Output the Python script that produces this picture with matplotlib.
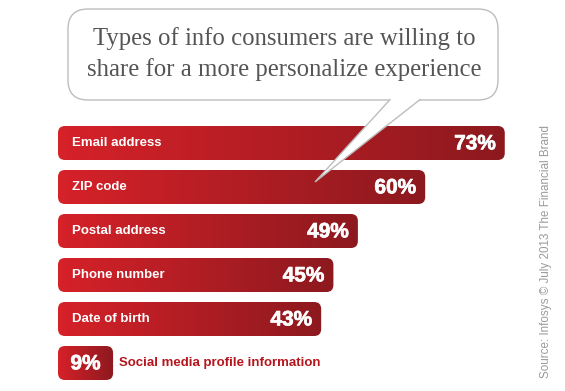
import numpy as np
import matplotlib.pyplot as plt
from matplotlib.patches import FancyBboxPatch, Polygon
import matplotlib.patheffects as pe

# data
labels = ["Email address", "ZIP code", "Postal address", "Phone number",
          "Date of birth", "Social media profile information"]
values = [73, 60, 49, 45, 43, 9]
title = "Types of info consumers are willing to\nshare for a more personalize experience"
source = "Source: Infosys \u00a9 July 2013 The Financial Brand"

W, H = 565, 391
fig = plt.figure(figsize=(W / 100, H / 100), dpi=100)

# bar axes: 58px left offset, ~6.12 px per percent, 44px row pitch
px_per_pct = 6.12
x0 = 58
ax = fig.add_axes([x0 / W, 0, 1 - x0 / W, 1])
ax.axis("off")

# gradient image: bright red -> dark red
c1 = np.array([0.84, 0.13, 0.16])
c2 = np.array([0.55, 0.10, 0.12])
t = np.linspace(0, 1, 256)
grad = (c1[None, :] * (1 - t[:, None]) + c2[None, :] * t[:, None])[None, :, :]

# mutation aspect so corner radius is round in pixels
pct_per_px = 1 / px_per_pct
row_per_px = 1 / 44
aspect = row_per_px / pct_per_px

pct_font = dict(color="white", fontsize=15, fontweight="bold",
                family="Liberation Sans", va="center", zorder=3,
                path_effects=[pe.withStroke(linewidth=0.5, foreground="white")])

bars = ax.barh(range(len(values)), values, height=34 / 44)
for i, (b, v, lab) in enumerate(zip(bars, values, labels)):
    b.set_visible(False)
    bx, by, bw, bh = b.get_x(), b.get_y(), b.get_width(), b.get_height()
    r = 7 * pct_per_px
    box = FancyBboxPatch((bx, by), bw, bh,
                         boxstyle=f"round,pad=0,rounding_size={r}",
                         mutation_aspect=aspect, fc="none", ec="none")
    ax.add_patch(box)
    im = ax.imshow(grad, extent=(bx, bx + bw, by + bh, by), aspect="auto",
                   interpolation="bilinear", zorder=1)
    im.set_clip_path(box)
    yc = by + bh / 2
    if i < len(values) - 1:
        ax.text(bx + 14 * pct_per_px, yc, lab, color="white",
                fontsize=9.5, fontweight="bold", family="Liberation Sans",
                va="center", ha="left", zorder=3)
        ax.text(bx + bw - 9 * pct_per_px, yc + 0.02, f"{v}%", ha="right",
                **pct_font)
    else:
        ax.text(bx + bw / 2, yc + 0.02, f"{v}%", ha="center", **pct_font)
        ax.text(bx + bw + 6 * pct_per_px, yc, lab, color="#b5161e",
                fontsize=9.5, fontweight="bold", family="Liberation Sans",
                va="center", ha="left", zorder=3)
ax.set_xlim(0, (W - x0) / px_per_pct)
ax.set_ylim((H - 143) / 44, -143 / 44)

# overlay in pixel coordinates for the speech bubble and source note
ov = fig.add_axes([0, 0, 1, 1], facecolor="none")
ov.set_xlim(0, W)
ov.set_ylim(H, 0)
ov.axis("off")

bubble = FancyBboxPatch((68, 9), 430, 91,
                        boxstyle="round,pad=0,rounding_size=20",
                        fc="white", ec="#bdbdbd", lw=1.0, zorder=4)
ov.add_patch(bubble)
tail = Polygon([(390, 99), (315, 182), (420, 99)], closed=True,
               fc="white", ec="none", zorder=5)
ov.add_patch(tail)
ov.plot([390, 315, 420], [99.6, 182, 99.6], color="#bdbdbd", lw=1.0,
        zorder=6, solid_joinstyle="miter")

ov.text(284, 54, title, ha="center", va="center", fontsize=17.8,
        family="Liberation Serif", color="#555555", linespacing=1.4, zorder=7)

ov.text(546, 251, source, rotation=90, ha="center", va="center",
        fontsize=8.4, family="Liberation Sans", color="#9a9a9a")

fig.savefig("out.png", dpi=100)
